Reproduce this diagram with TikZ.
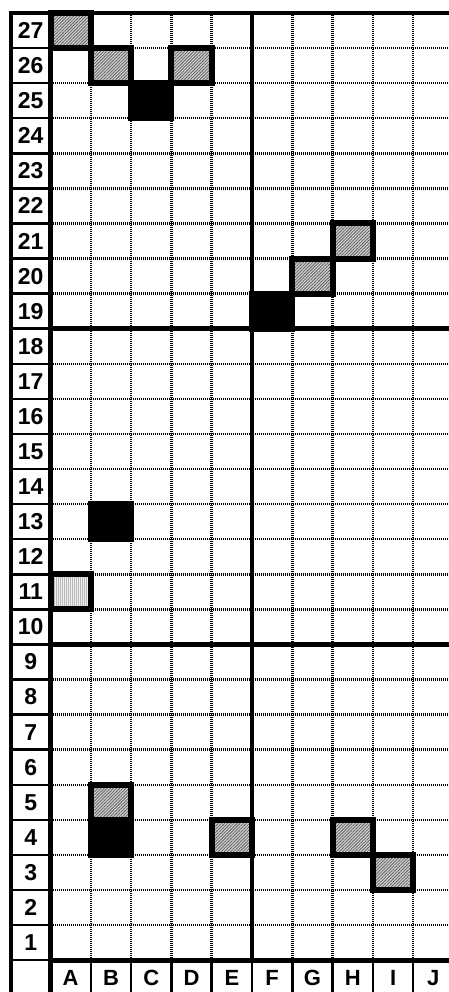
\documentclass[tikz,border=0pt]{standalone}
\usepackage{fontspec}
\setmainfont{Liberation Sans}
\usepackage{tikz}
\usetikzlibrary{patterns.meta}
\newcommand\colw{40.3}
\newcommand\rowh{35.08}
\tikzset{
  gridline/.style={line width=2.5pt,dash pattern=on 1pt off 1pt},
  frameline/.style={line width=4.8pt},
  sepline/.style={line width=2.5pt},
  hatchcell/.style={draw,line width=6pt,preaction={fill=gray!35},
    pattern={Lines[angle=45,distance=2.2pt,line width=0.8pt]},pattern color=gray!75!black},
  lightcell/.style={draw,line width=6pt,preaction={fill=gray!12},
    pattern={Lines[angle=90,distance=2pt,line width=0.6pt]},pattern color=gray!55},
  blackcell/.style={draw,fill=black,line width=6pt},
  rowlab/.style={font=\fontsize{23}{23}\selectfont\bfseries,inner sep=0pt},
  collab/.style={font=\fontsize{22}{22}\selectfont\bfseries,inner sep=0pt}
}
\begin{document}
\begin{tikzpicture}[x=1pt,y=-1pt]
  \useasboundingbox (0,0) rectangle (449,992);
  % dotted grid
  \foreach \k in {1,...,26}
    \draw[gridline] (50.5,{13+\k*\rowh}) -- (449,{13+\k*\rowh});
  \foreach \k in {1,2,3,4,6,7,8,9}
    \draw[gridline] ({50.5+\k*\colw},13) -- ({50.5+\k*\colw},960.5);
  % thin separators of the label column and label row
  \foreach \k in {1,...,27}
    \draw[sepline] (11,{13+\k*\rowh}) -- (50.5,{13+\k*\rowh});
  \foreach \k in {1,...,9}
    \draw[sepline] ({50.5+\k*\colw},960.5) -- ({50.5+\k*\colw},992);
  % frame
  \draw[frameline] (9,13) -- (449,13);
  \draw[frameline] (11,13) -- (11,992);
  \draw[frameline] (50.5,13) -- (50.5,992);
  \draw[frameline] (50.5,960.5) -- (449,960.5);
  \draw[frameline] (50.5,{13+9*\rowh}) -- (449,{13+9*\rowh});
  \draw[frameline] (50.5,{13+18*\rowh}) -- (449,{13+18*\rowh});
  \draw[frameline] ({50.5+5*\colw},13) -- ({50.5+5*\colw},960.5);
  % marked cells
  \foreach \c/\r in {1/27,2/26,4/26,8/21,7/20,2/5,5/4,8/4,9/3}
    \path[hatchcell] ({50.5+(\c-1)*\colw},{13+(27-\r)*\rowh}) rectangle ++(\colw,\rowh);
  \path[lightcell] (50.5,{13+16*\rowh}) rectangle ++(\colw,\rowh);
  \foreach \c/\r in {3/25,6/19,2/13,2/4}
    \path[blackcell] ({50.5+(\c-1)*\colw},{13+(27-\r)*\rowh}) rectangle ++(\colw,\rowh);
  % labels
  \foreach \r in {1,...,27}
    \node[rowlab] (r\r) at (30.75,{13+(27.5-\r)*\rowh}) {\r};
  \foreach \l [count=\c] in {A,B,C,D,E,F,G,H,I,J}
    \node[collab] (col\l) at ({50.5+(\c-0.5)*\colw},978) {\l};
\end{tikzpicture}
\end{document}
